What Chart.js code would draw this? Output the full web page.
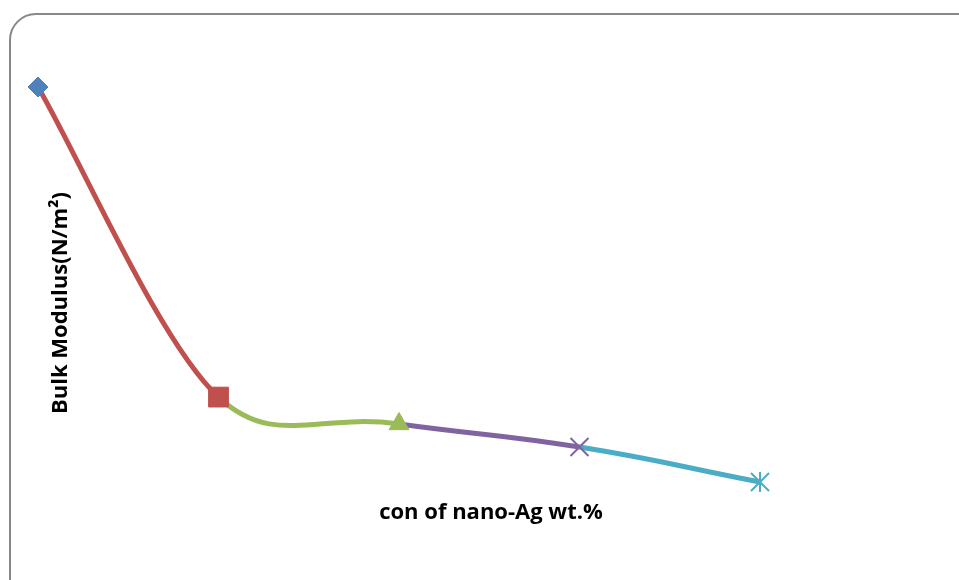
<!DOCTYPE html>
<html>
<head>
  <title>Bulk Modulus</title>
  <script src="https://cdn.jsdelivr.net/npm/chart.js"></script>
  <style>
    body { margin: 0; background: #fff; overflow: hidden; }
  </style>
</head>
<body>
  <canvas id="bulkChart" width="959" height="580"></canvas>

  <script>
    const concentrations = [0, 1, 2, 3, 4];
    const bulkModulus = [3.0, 1.43, 1.294, 1.177, 1.0];
    const markerColors = ['#4F81BD', '#C0504D', '#9BBB59', '#8064A2', '#4BACC6'];
    const xTitle = 'con of nano-Ag wt.%';
    const yTitle = 'Bulk Modulus(N/m\u00B2)';

    // six-armed asterisk marker for the last point
    function asteriskMarker(color) {
      const c = document.createElement('canvas');
      c.width = 20;
      c.height = 20;
      const g = c.getContext('2d');
      g.strokeStyle = color;
      g.lineWidth = 2;
      g.beginPath();
      g.moveTo(1, 1); g.lineTo(19, 19);
      g.moveTo(19, 1); g.lineTo(1, 19);
      g.moveTo(10, 0); g.lineTo(10, 20);
      g.stroke();
      return c;
    }

    const markerStyles = ['rectRot', 'rect', 'triangle', 'crossRot', asteriskMarker(markerColors[4])];
    const markerSizes = [10, 14, 11.5, 12.7, 10];

    // rounded frame plus the two axis captions
    const framePlugin = {
      id: 'frame',
      beforeDraw(chart) {
        const ctx = chart.ctx;
        ctx.save();
        ctx.strokeStyle = '#888888';
        ctx.lineWidth = 2;
        ctx.beginPath();
        ctx.roundRect(10, 14, 980, 600, 26);
        ctx.stroke();
        ctx.restore();
      },
      afterDraw(chart) {
        const ctx = chart.ctx;
        ctx.save();
        ctx.fillStyle = '#000';
        ctx.font = 'bold 22px "Open Sans"';
        ctx.textAlign = 'center';
        ctx.textBaseline = 'middle';
        ctx.fillText(xTitle, 491, 513);
        ctx.translate(61, 303);
        ctx.rotate(-Math.PI / 2);
        ctx.fillText(yTitle, 0, 0);
        ctx.restore();
      }
    };

    const points = concentrations.map((c, i) => ({ x: c, y: bulkModulus[i] }));
    const hidden = 'rgba(0,0,0,0)';

    const ctx = document.getElementById('bulkChart').getContext('2d');
    new Chart(ctx, {
      type: 'line',
      data: {
        datasets: [{
          // later segments and all markers
          data: points,
          borderWidth: 5,
          tension: 0.45,
          clip: false,
          segment: {
            borderColor: c => c.p0DataIndex === 0 ? hidden : markerColors[c.p1DataIndex]
          },
          pointStyle: markerStyles,
          pointRadius: markerSizes,
          pointHoverRadius: markerSizes,
          pointBackgroundColor: markerColors,
          pointBorderColor: markerColors,
          pointBorderWidth: [1, 1, 1, 2, 2]
        }, {
          // steep first segment, drawn with a flatter curve
          data: points,
          borderWidth: 5,
          tension: 0.25,
          clip: false,
          segment: {
            borderColor: c => c.p0DataIndex === 0 ? markerColors[1] : hidden
          },
          pointRadius: 0,
          pointHoverRadius: 0
        }]
      },
      options: {
        responsive: false,
        animation: false,
        layout: {
          padding: { left: 38, right: 199, top: 87, bottom: 98 }
        },
        plugins: {
          legend: { display: false },
          tooltip: { enabled: false }
        },
        scales: {
          x: { type: 'linear', min: 0, max: 4, display: false },
          y: { min: 1, max: 3, display: false }
        }
      },
      plugins: [framePlugin]
    });
  </script>
</body>
</html>
